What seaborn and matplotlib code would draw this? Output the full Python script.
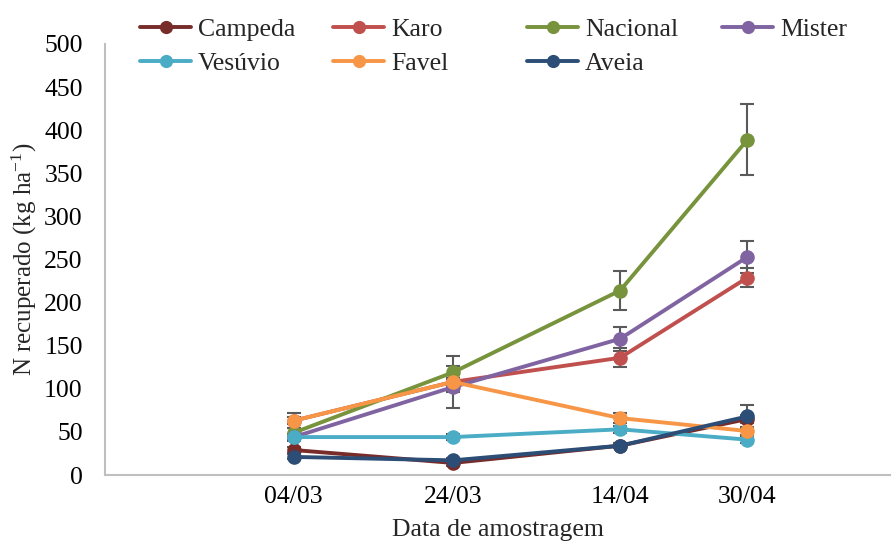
import numpy as np
import pandas as pd
import matplotlib
matplotlib.use("Agg")
import matplotlib.pyplot as plt
import matplotlib.transforms as mtransforms
from matplotlib.lines import Line2D
import seaborn as sns

# ---- data ----
dates = ["2015-03-04", "2015-03-24", "2015-04-14", "2015-04-30"]
date_labels = ["04/03", "24/03", "14/04", "30/04"]
series_names = ["Campeda", "Karo", "Nacional", "Mister", "Vesúvio", "Favel", "Aveia"]
campeda = [29, 14, 34, 65]
karo = [63, 108, 136, 229]
nacional = [49, 119, 214, 389]
mister = [44, 102, 158, 253]
vesuvio = [44, 44, 53, 41]
favel = [63, 108, 66, 51]
aveia = [21, 17, 34, 68]
err_campeda = [3, 3, 3, 5]
err_karo = [4, 5, 11, 11]
err_nacional = [5, 8, 23, 41]
err_mister = [4, 6, 14, 19]
err_vesuvio = [3, 3, 4, 4]
err_favel = [9, 30, 6, 5]
err_aveia = [3, 3, 3, 13]
yticks = [0, 50, 100, 150, 200, 250, 300, 350, 400, 450, 500]
colors = ["#772C2A", "#C0504D", "#77933C", "#8064A2", "#4BACC6", "#F79646", "#2C4D75"]

values = [campeda, karo, nacional, mister, vesuvio, favel, aveia]
errors = [err_campeda, err_karo, err_nacional, err_mister, err_vesuvio, err_favel, err_aveia]
dt = pd.to_datetime(dates)
df = pd.DataFrame({
    "data": np.tile(dt, len(series_names)),
    "N": np.concatenate(values),
    "err": np.concatenate(errors),
    "cultivar": np.repeat(series_names, len(dates)),
})

sns.set_theme(style="white")
plt.rcParams["font.family"] = ["Liberation Serif", "DejaVu Serif"]
plt.rcParams["mathtext.fontset"] = "custom"
plt.rcParams["mathtext.rm"] = "Liberation Serif"
plt.rcParams["mathtext.it"] = "Liberation Serif:italic"

FS = 18.5
fig = plt.figure(figsize=(8.93, 5.44), dpi=100)
ax = fig.add_axes([105 / 893, 1 - 475 / 544, (890 - 105) / 893, (475 - 44) / 544])

# error bars (behind lines)
for name in series_names:
    sub = df[df.cultivar == name]
    ax.errorbar(sub["data"], sub["N"], yerr=sub["err"], fmt="none", ecolor="#5A5A5A",
                elinewidth=1.5, capsize=5, capthick=1.5, zorder=1)

sns.lineplot(data=df, x="data", y="N", hue="cultivar", hue_order=series_names,
             palette=colors, marker="o", markersize=10.5, markeredgewidth=0,
             linewidth=2.8, legend=False, ax=ax, zorder=3)

d0 = dt[0]
ax.set_xlim(d0 - pd.Timedelta(days=23.7), d0 + pd.Timedelta(days=74.9))
ax.set_ylim(0, 500)
ax.set_yticks(yticks)
ax.set_xticks(dt)
ax.set_xticklabels(date_labels)
ax.tick_params(axis="both", length=0, labelsize=FS, colors="black")
ax.tick_params(axis="y", pad=16)
ax.tick_params(axis="x", pad=8)

for s in ["top", "right"]:
    ax.spines[s].set_visible(False)
for s in ["left", "bottom"]:
    ax.spines[s].set_color("#BFBFBF")
    ax.spines[s].set_linewidth(1.5)

ax.set_xlabel("Data de amostragem", fontsize=FS, labelpad=8)
ax.set_ylabel(r"N recuperado (kg ha$^{\mathregular{-1}}$)", fontsize=18)
ax.yaxis.label.set_transform(mtransforms.blended_transform_factory(
    mtransforms.IdentityTransform(), ax.transAxes))
ax.yaxis.label.set_position((26, 0.5))
ax.yaxis.label.set_horizontalalignment("center")

# legends: equal-width columns like the original
handles = [Line2D([0], [0], color=c, lw=2.8, marker="o", markersize=9.5, markeredgewidth=0)
           for c in colors]
col_x = [140, 333, 527, 722]
cols = [[0, 4], [1, 5], [2, 6], [3]]
for cx, idx in zip(col_x, cols):
    fig.legend([handles[i] for i in idx], [series_names[i] for i in idx],
               loc="upper left", bbox_to_anchor=(cx / 893, 1 - 18 / 544),
               frameon=False, fontsize=FS, borderpad=0, borderaxespad=0,
               handlelength=2.0, handletextpad=0.25, labelspacing=0.42)

fig.savefig("out.png", dpi=100)
